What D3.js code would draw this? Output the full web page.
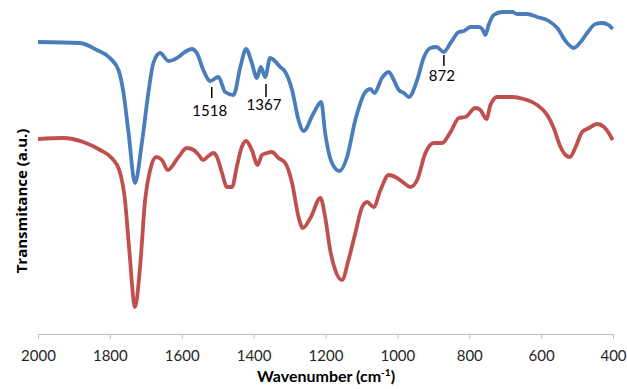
<!DOCTYPE html>
<html>
<head>
<meta charset="utf-8">
<script src="https://cdn.jsdelivr.net/npm/d3@7"></script>
<style>
  body { margin: 0; background: #fff; }
  svg { display: block; font-family: Lato, "Open Sans", sans-serif; }
</style>
</head>
<body>
<svg width="627" height="389"></svg>
<script>
// wavenumbers (cm-1) and transmittance (a.u.)
var blueWave = [2000,1883,1836,1800,1776,1762,1748,1730,1711,1693,1679,1660,1637,1609,1595,1572,1558,1540,1521,1498,1479,1456,1437,1421,1405,1391,1380,1368,1354,1326,1312,1293,1275,1261,1233,1212,1201,1182,1161,1140,1117,1089,1075,1064,1043,1024,1010,996,982,968,945,927,908,891,871,852,829,815,797,774,764,755,746,732,708,680,667,639,611,579,555,532,509,490,472,449,430,412,401];
var blueT = [292,291,284,276,264,241,201,151,191,241,271,281,273,277,281,285,281,264,253,257,242,239,267,285,271,256,267,257,276,267,262,244,214,203,221,232,201,171,163,177,214,242,245,241,256,262,254,244,241,237,254,276,286,287,282,291,302,303,307,307,305,299,309,319,322,322,320,320,317,313,306,293,286,292,301,310,311,309,305];

var redWave = [2000,1930,1874,1827,1795,1774,1758,1746,1730,1716,1702,1688,1671,1655,1639,1609,1586,1567,1553,1540,1526,1512,1502,1488,1474,1460,1447,1433,1421,1405,1389,1377,1363,1349,1331,1312,1293,1275,1263,1242,1214,1201,1187,1173,1154,1136,1117,1098,1084,1066,1047,1024,1001,982,964,945,922,899,876,852,829,811,783,769,752,741,722,680,649,611,583,565,546,532,520,504,486,467,444,425,412,401];
var redT = [195,196,192,184,176,164,134,84,27,67,134,164,177,174,164,177,186,184,179,174,178,181,177,161,147,147,167,187,193,184,169,179,181,182,176,171,151,117,106,116,136,117,84,64,54,74,101,127,132,127,144,159,156,151,147,154,181,191,191,202,216,217,226,224,215,229,237,237,235,229,219,206,187,179,177,187,202,206,210,207,201,194];

var xTicks = [2000,1800,1600,1400,1200,1000,800,600,400];
var peakLabels = ["1518","1367","872"];
var peakWave = [1518,1367,872];

var svg = d3.select("svg");
var x = d3.scaleLinear().domain([2000, 400]).range([38, 613]);
var y = d3.scaleLinear().domain([0, 334]).range([334, 0]);

// x axis
var axis = svg.append("g")
  .attr("transform", "translate(0,334)")
  .call(d3.axisBottom(x).tickValues(xTicks).tickSize(5).tickPadding(9).tickFormat(d3.format("d")));
axis.select(".domain").attr("stroke", "#bfbfbf");
axis.selectAll(".tick line").attr("stroke", "#bfbfbf");
axis.selectAll(".tick text").attr("font-size", 15).attr("fill", "#262626")
  .attr("font-family", "Lato, 'Open Sans', sans-serif")
  .attr("dy", null).attr("y", 27);

// lines
var line = d3.line()
  .x(function(d) { return x(d[0]); })
  .y(function(d) { return y(d[1]); })
  .curve(d3.curveMonotoneX);

function series(wave, t) {
  return wave.map(function(w, i) { return [w, t[i]]; });
}

svg.append("path").datum(series(redWave, redT))
  .attr("fill", "none").attr("stroke", "#c0504d").attr("stroke-width", 3.8)
  .attr("stroke-linejoin", "round").attr("d", line);

svg.append("path").datum(series(blueWave, blueT))
  .attr("fill", "none").attr("stroke", "#4a7ebb").attr("stroke-width", 3.8)
  .attr("stroke-linejoin", "round").attr("d", line);

// peak marks on the blue curve
var marks = [
  { top: 87, bottom: 98, textY: 116 },
  { top: 84, bottom: 97, textY: 110 },
  { top: 55, bottom: 66, textY: 81 }
];
peakWave.forEach(function(w, i) {
  var px = x(w) + 0.5;
  svg.append("line")
    .attr("x1", px).attr("x2", px)
    .attr("y1", marks[i].top).attr("y2", marks[i].bottom)
    .attr("stroke", "#000").attr("stroke-width", 1.5);
  svg.append("text")
    .attr("x", px - 2).attr("y", marks[i].textY)
    .attr("text-anchor", "middle").attr("font-size", 15).attr("fill", "#000")
    .text(peakLabels[i]);
});

// axis titles
var xt = svg.append("text")
  .attr("x", 326).attr("y", 382)
  .attr("text-anchor", "middle").attr("font-size", 16).attr("font-weight", "bold")
  .attr("font-family", "Lato, sans-serif")
  .attr("fill", "#000");
xt.append("tspan").text("Wavenumber (cm");
xt.append("tspan").attr("font-size", 10).attr("dy", -6).text("-1");
xt.append("tspan").attr("dy", 6).text(")");

svg.append("text")
  .attr("transform", "translate(27,201) rotate(-90)")
  .attr("text-anchor", "middle").attr("font-size", 15).attr("font-weight", "bold")
  .attr("font-family", "'Open Sans', sans-serif")
  .attr("fill", "#000")
  .text("Transmitance (a.u.)");
</script>
</body>
</html>
